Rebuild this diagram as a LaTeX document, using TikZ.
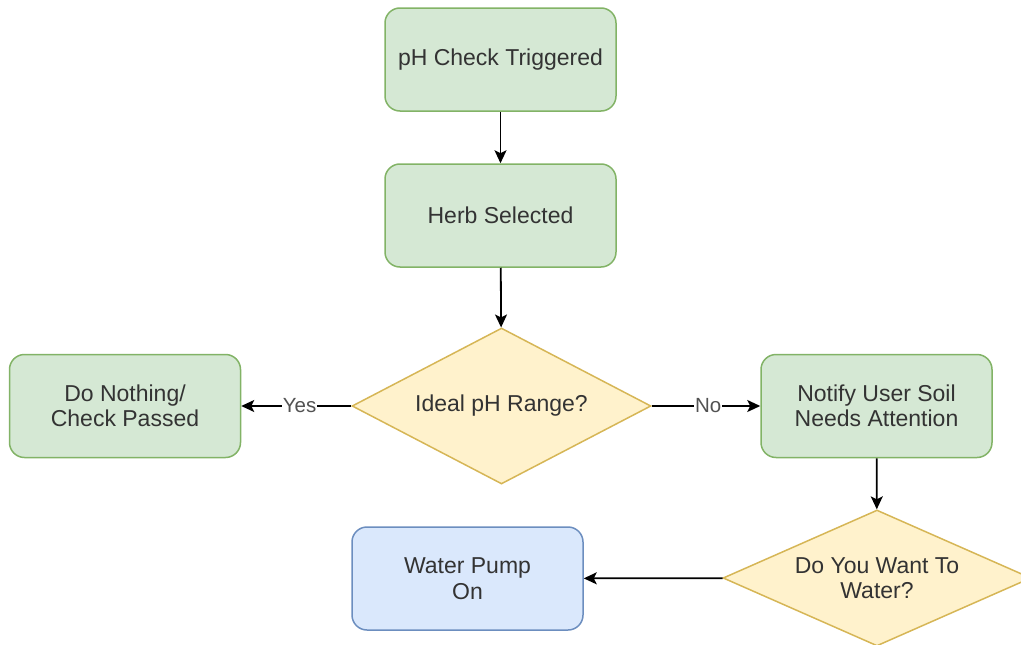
\documentclass[tikz,border=0pt]{standalone}
\usepackage{fontspec}
\setmainfont{Liberation Sans}
\usetikzlibrary{shapes.geometric,arrows.meta}
\definecolor{gfill}{HTML}{D5E8D4}
\definecolor{gline}{HTML}{82B366}
\definecolor{yfill}{HTML}{FFF2CC}
\definecolor{yline}{HTML}{D6B656}
\definecolor{bfill}{HTML}{DAE8FC}
\definecolor{bline}{HTML}{6C8EBF}
\definecolor{txt}{HTML}{333333}
\tikzset{
  box/.style={rectangle, rounded corners=15pt, minimum width=231pt, minimum height=103pt,
    line width=1.5pt, align=center, text=txt, font=\fontsize{23}{25.5}\selectfont, inner sep=0pt},
  gbox/.style={box, draw=gline, fill=gfill},
  bbox/.style={box, draw=bline, fill=bfill},
  dec/.style={diamond, aspect=1.9, draw=yline, fill=yfill, line width=1.5pt, align=center,
    text=txt, font=\fontsize{23}{25.5}\selectfont, inner sep=0pt},
  arr/.style={line width=1.8pt, -{Stealth[length=13pt,width=12pt,inset=3pt]}},
  lbl/.style={fill=white, text=txt!85, font=\fontsize{20.5}{22}\selectfont, inner sep=1pt}
}
\begin{document}
\begin{tikzpicture}[x=1pt,y=-1pt]
\useasboundingbox (0,0) rectangle (1021,645);
\clip (0,0) rectangle (1021,645);
\node[gbox] (trig) at (500.5,59.5) {pH Check Triggered};
\node[gbox] (herb) at (500.5,215.5) {Herb Selected};
\node[dec, minimum width=299pt, minimum height=156pt] (range) at (501.5,406) {Ideal pH Range?};
\node[gbox] (nothing) at (125,406) {Do Nothing/\\Check Passed};
\node[gbox] (notify) at (876.5,406) {Notify User Soil\\Needs Attention};
\node[dec, minimum width=308pt, minimum height=136pt] (water) at (877,578) {Do You Want To\\Water?};
\node[bbox] (pump) at (467.5,578.5) {Water Pump\\On};
\draw[arr] (trig) -- (herb);
\draw[arr] (herb) -- (range);
\draw[arr] (range) -- node[lbl, pos=0.47] {Yes} (nothing);
\draw[arr] (range) -- node[lbl, pos=0.52] {No} (notify);
\draw[arr] (notify) -- (water);
\draw[arr] (water) -- (pump);
\end{tikzpicture}
\end{document}
